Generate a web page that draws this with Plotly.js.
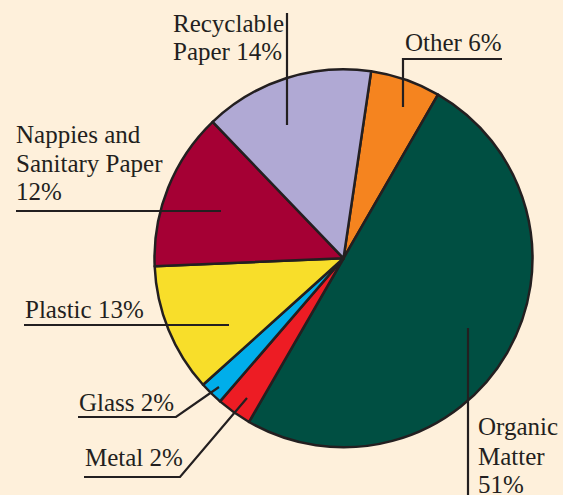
<!DOCTYPE html>
<html>
<head>
<meta charset="utf-8">
<script src="https://cdn.plot.ly/plotly-3.0.1.min.js"></script>
<style>
html,body{margin:0;padding:0;background:#fef0db;}
#chart{width:563px;height:495px;}
</style>
</head>
<body>
<div id="chart"></div>
<script>
// Data (slice order clockwise, starting with "Other")
var categories = ["Other", "Organic Matter", "Metal", "Glass", "Plastic", "Nappies and Sanitary Paper", "Recyclable Paper"];
var sliceShares = [6, 50, 3, 2, 11, 13.5, 14.5];       // drawn slice sizes (%)
var labelPercents = [6, 51, 2, 2, 13, 12, 14];          // printed percentages
var sliceColors = ["#f5841f", "#004f42", "#ed1c24", "#00aeea", "#f8de2a", "#a50034", "#b0a9d4"];

var W = 563, H = 495;
function px(x) { return x / W; }
function py(y) { return 1 - y / H; }

var ink = "#231f20";
var fontSpec = {family: "Liberation Serif, Times New Roman, serif", size: 25, color: ink};

// text lines: [text, left x, baseline y]
var textLines = [
  ["Recyclable", 172, 32],
  ["Paper " + labelPercents[6] + "%", 172, 60],
  ["Other " + labelPercents[0] + "%", 404, 51],
  ["Nappies and", 15, 143],
  ["Sanitary Paper", 15, 171.5],
  [labelPercents[5] + "%", 15, 200],
  ["Plastic " + labelPercents[4] + "%", 24, 318],
  ["Glass " + labelPercents[3] + "%", 78, 411],
  ["Metal " + labelPercents[2] + "%", 84, 466],
  ["Organic", 477, 435],
  ["Matter", 477, 465],
  [labelPercents[1] + "%", 477, 493]
];

var annotations = textLines.map(function (t) {
  return {
    text: t[0], xref: "paper", yref: "paper",
    x: px(t[1]), y: py(t[2] + 6),
    xanchor: "left", yanchor: "bottom",
    showarrow: false, borderpad: 0, font: fontSpec
  };
});

function path(pts) {
  var s = "M " + px(pts[0][0]) + " " + py(pts[0][1]);
  for (var i = 1; i < pts.length; i++) s += " L " + px(pts[i][0]) + " " + py(pts[i][1]);
  return {type: "path", xref: "paper", yref: "paper", path: s, line: {color: ink, width: 2.2}, layer: "above"};
}

var shapes = [
  path([[287, 13], [287, 125]]),
  path([[403, 107], [403, 59], [502, 59]]),
  path([[16, 211], [221, 211]]),
  path([[24, 325], [229, 325]]),
  path([[78, 417], [176, 417], [219, 387]]),
  path([[84, 477], [180, 477], [247, 398]]),
  path([[468, 328], [468, 496]])
];

var cx = 343.5, cy = 258.3, r = 189;

var trace = {
  type: "pie",
  labels: categories,
  values: sliceShares,
  sort: false,
  direction: "clockwise",
  rotation: 8.4,
  marker: {colors: sliceColors, line: {color: ink, width: 2.5}},
  textinfo: "none",
  hoverinfo: "none",
  showlegend: false,
  domain: {x: [px(cx - r), px(cx + r)], y: [py(cy + r), py(cy - r)]}
};

var layout = {
  width: W, height: H,
  margin: {l: 0, r: 0, t: 0, b: 0},
  paper_bgcolor: "#fef0db",
  plot_bgcolor: "#fef0db",
  showlegend: false,
  annotations: annotations,
  shapes: shapes
};

Plotly.newPlot("chart", [trace], layout, {staticPlot: true, displayModeBar: false});
</script>
</body>
</html>
